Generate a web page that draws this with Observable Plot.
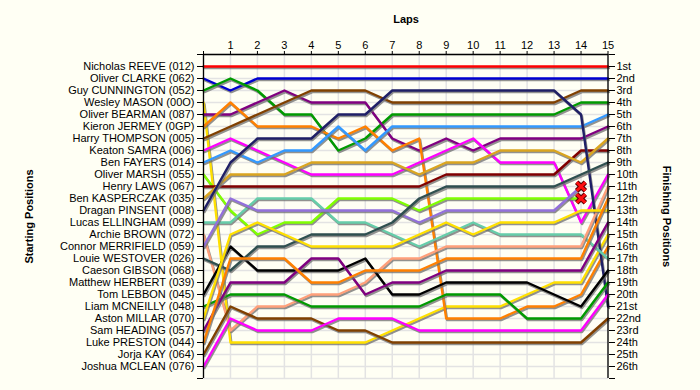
<!DOCTYPE html>
<html><head><meta charset="utf-8">
<script src="https://cdn.jsdelivr.net/npm/d3@7"></script>
<script src="https://cdn.jsdelivr.net/npm/@observablehq/plot@0.6"></script>
<style>
html,body{margin:0;padding:0;background:#fffff4;}
#chart{width:700px;height:390px;overflow:hidden;}
</style></head><body><div id="chart"></div>
<script>
// Lap numbers (0 = grid)
const laps = [0,1,2,3,4,5,6,7,8,9,10,11,12,13,14,15];

// Starting grid order
const starters = [
  "Nicholas REEVE (012)","Oliver CLARKE (062)","Guy CUNNINGTON (052)","Wesley MASON (00O)",
  "Oliver BEARMAN (087)","Kieron JERMEY (0GP)","Harry THOMPSON (005)","Keaton SAMRA (006)",
  "Ben FAYERS (014)","Oliver MARSH (055)","Henry LAWS (067)","Ben KASPERCZAK (035)",
  "Dragan PINSENT (008)","Lucas ELLINGHAM (099)","Archie BROWN (072)","Connor MERRIFIELD (059)",
  "Louie WESTOVER (026)","Caeson GIBSON (068)","Matthew HERBERT (039)","Tom LEBBON (045)",
  "Liam MCNEILLY (048)","Aston MILLAR (070)","Sam HEADING (057)","Luke PRESTON (044)",
  "Jorja KAY (064)","Joshua MCLEAN (076)"
];

// Line colour per driver (same order)
const colors = [
  "#ff0000","#0000d0","#009a00","#ffe000","#800080","#ff8000","#804000","#ff00ff",
  "#3399ff","#80ff00","#800000","#daa520","#1f1f66","#66cdaa","#ffa07a","#9370db",
  "#2f4f4f","#999999","#999999","#000000","#009a00","#ffe000","#800080","#ff8000",
  "#804000","#ff00ff"
];

// Position at the end of each lap (laps 0..15); shorter list = retired
const positions = [
  [1,1,1,1,1,1,1,1,1,1,1,1,1,1,1,1],
  [2,3,2,2,2,2,2,2,2,2,2,2,2,2,2,2],
  [3,2,3,5,5,8,7,5,5,5,5,5,5,5,4,4],
  [4,24,24,24,24,24,24,23,22,21,21,21,20,19,19,15],
  [5,5,4,3,4,4,4,7,8,7,8,7,7,7,7,6],
  [6,4,6,6,6,7,6,8,7,22,22,22,21,21,20,16],
  [7,6,5,4,3,3,3,4,4,4,4,4,4,4,3,3],
  [8,7,8,9,10,10,10,10,9,8,7,9,9,9,14,10],
  [9,8,9,8,8,6,8,6,6,6,6,6,6,6,6,5],
  [10,13,15,14,14,12,12,12,13,12,12,12,12,12,12],
  [11,11,11,11,11,11,11,11,11,10,10,10,10,10,8,8],
  [12,10,10,10,9,9,9,9,10,9,9,8,8,8,9,7],
  [13,9,7,7,7,5,5,3,3,3,3,3,3,3,5,21],
  [14,14,12,12,12,14,14,15,16,15,14,15,15,15,15,17],
  [15,23,21,21,20,20,19,17,17,16,16,16,16,16,16,11],
  [16,12,13,13,13,13,13,13,14,13,13,13,13,13,11],
  [17,18,16,16,15,15,15,14,12,11,11,11,11,11,10,9],
  [],
  [],
  [20,16,18,18,18,18,17,20,20,19,19,19,19,20,21,18],
  [21,20,20,20,21,21,21,21,21,20,20,20,22,22,22,19],
  [22,15,14,15,16,16,16,16,15,14,15,14,14,14,13,13],
  [23,19,19,19,17,17,20,19,19,18,18,18,18,18,18,14],
  [24,17,17,17,19,19,18,18,18,17,17,17,17,17,17,12],
  [25,21,22,22,22,23,23,24,24,24,24,24,24,24,24,22],
  [26,22,23,23,23,22,22,22,23,23,23,23,23,23,23,20]
];

// Finishing position labels
const finishLabels = [
  "1st","2nd","3rd","4th","5th","6th","7th","8th","9th","10th","11th","12th","13th",
  "14th","15th","16th","17th","18th","19th","20th","21st","22nd","23rd","24th","25th","26th"
];

const rows = [];
const retired = [];
positions.forEach((ps, i) => {
  ps.forEach((p, j) => rows.push({driver: starters[i], lap: laps[j], pos: p, color: colors[i]}));
  if (ps.length > 0 && ps.length < laps.length) {
    retired.push({lap: laps[ps.length - 1], pos: ps[ps.length - 1]});
  }
});

const lineMarks = [];
starters.forEach((name, i) => {
  const d = rows.filter(r => r.driver === name);
  if (!d.length) return;
  lineMarks.push(Plot.line(d, {x: "lap", y: "pos", stroke: "#6e6e6e", strokeOpacity: 0.75, strokeWidth: 2.4, dx: 1, dy: 1.6}));
  lineMarks.push(Plot.line(d, {x: "lap", y: "pos", stroke: "color", strokeWidth: 2.4}));
});

const posTicks = d3.range(0, 28);

const chart = Plot.plot({
  width: 700,
  height: 390,
  marginLeft: 203,
  marginRight: 92,
  marginTop: 54,
  marginBottom: 12,
  style: {background: "#fffff4", fontFamily: "'Liberation Sans', Arial, sans-serif", fontSize: "11px", color: "#000", overflow: "visible"},
  x: {domain: [0, 15], range: [203, 607.5]},
  y: {domain: [0, 27], range: [54, 378]},
  color: {type: "identity"},
  marks: [
    Plot.gridX(laps, {stroke: "#e3e3e3", strokeOpacity: 1, strokeWidth: 1.5}),
    Plot.gridY(posTicks, {stroke: "#e3e3e3", strokeOpacity: 1, strokeWidth: 1.5}),
    ...lineMarks,
    Plot.dot(retired, {x: "lap", y: "pos", symbol: "times", r: 4, stroke: "#5a0000", strokeWidth: 5}),
    Plot.dot(retired, {x: "lap", y: "pos", symbol: "times", r: 4, stroke: "#ff1010", strokeWidth: 3}),
    Plot.ruleY([0], {stroke: "#000", strokeWidth: 1.3}),
    Plot.ruleX([0, 15], {stroke: "#000", strokeWidth: 1.3}),
    Plot.axisX({anchor: "top", ticks: laps, tickFormat: d => d === 0 ? "" : String(d), tickSize: 4, tickPadding: 2, fontSize: 11, label: null}),
    Plot.axisY({anchor: "left", ticks: posTicks, tickFormat: d => (d >= 1 && d <= 26) ? starters[d - 1] : "", tickSize: 6, tickPadding: 3, fontSize: 11, label: null}),
    Plot.axisY({anchor: "right", ticks: posTicks, tickFormat: d => (d >= 1 && d <= 26) ? finishLabels[d - 1] : "", tickSize: 6, tickPadding: 2, fontSize: 11, label: null}),
    Plot.text(["Laps"], {frameAnchor: "top", dy: -35, lineAnchor: "middle", fontWeight: "bold", fontSize: 11}),
    Plot.text(["Starting Positions"], {frameAnchor: "left", dx: -174, rotate: -90, textAnchor: "middle", lineAnchor: "middle", fontWeight: "bold", fontSize: 11}),
    Plot.text(["Finishing Positions"], {frameAnchor: "right", dx: 58, rotate: 90, textAnchor: "middle", lineAnchor: "middle", fontWeight: "bold", fontSize: 11})
  ]
});
document.getElementById("chart").appendChild(chart);
</script>
</body></html>
